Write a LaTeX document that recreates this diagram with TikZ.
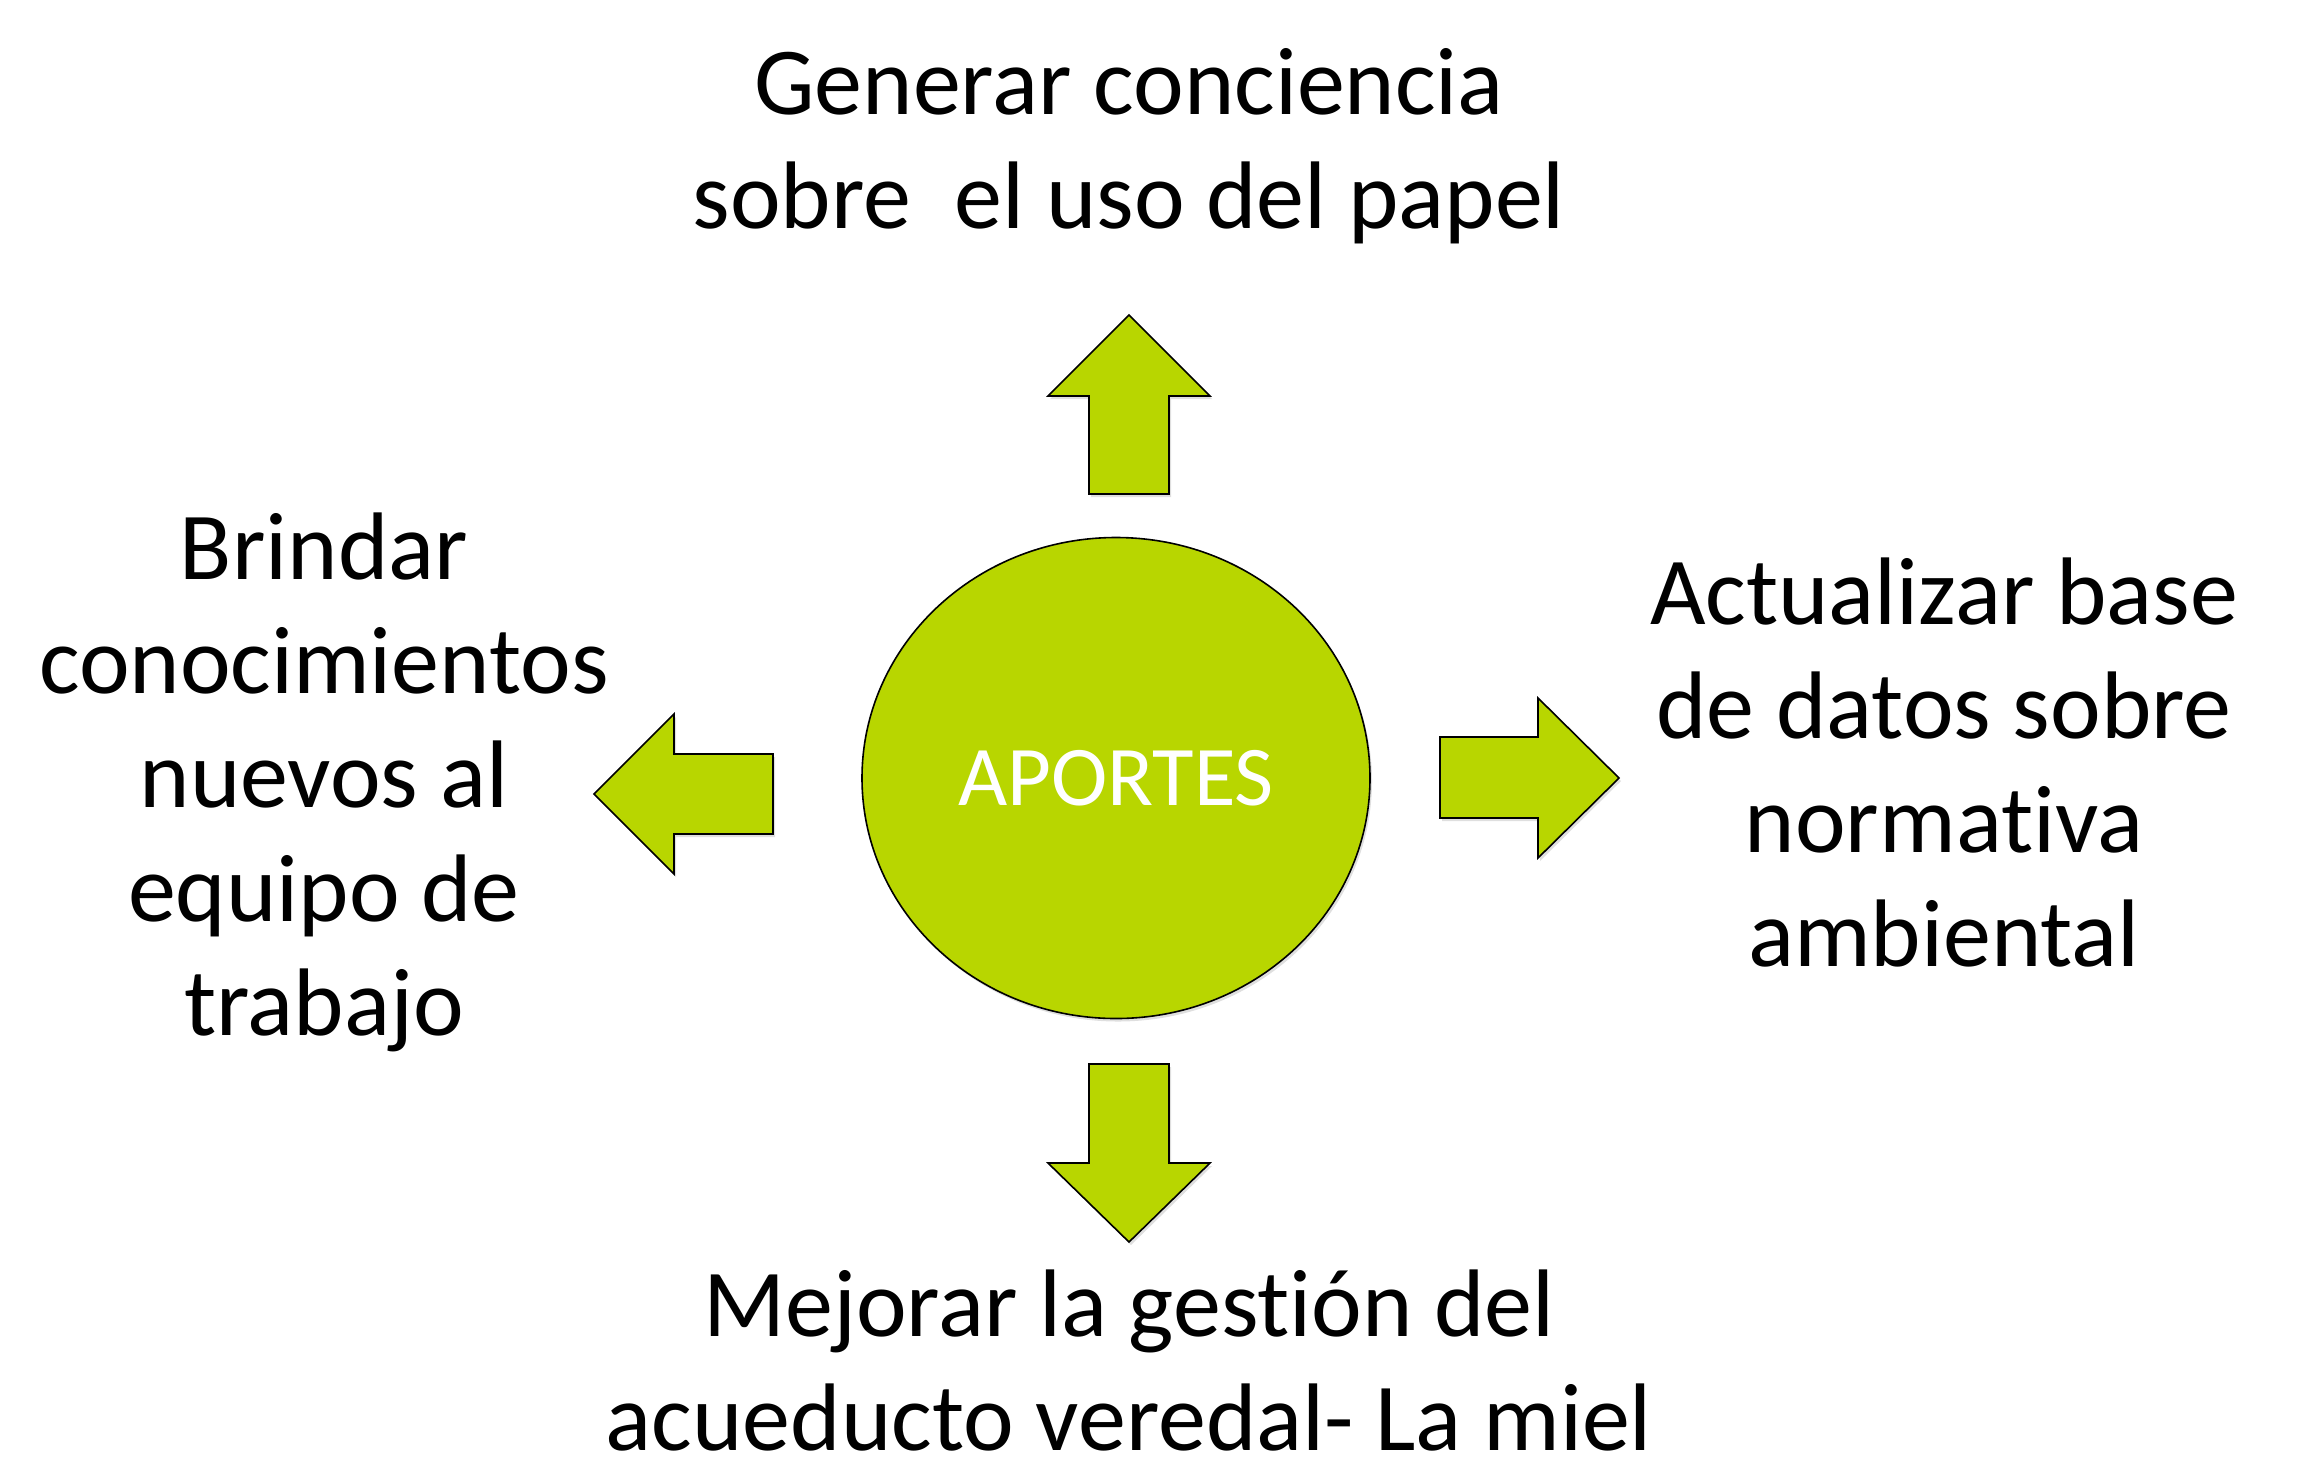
\documentclass[tikz,border=0pt]{standalone}
\usepackage{fontspec}
\setmainfont{Carlito}[Ligatures=NoCommon]
\usetikzlibrary{shapes.geometric,shadows}
\definecolor{limegreen}{RGB}{184,214,0}
\tikzset{
  arrowshape/.style={fill=limegreen,draw=black,line width=1.6pt,line join=miter,
    drop shadow={opacity=0.25,shadow xshift=2pt,shadow yshift=-3pt}},
  label/.style={align=center,inner sep=0pt,font=\fontsize{96}{114}\selectfont},
}
\begin{document}
\begin{tikzpicture}[x=1pt,y=-1pt]
\useasboundingbox (0,0) rectangle (2299,1460);
% centre
\node[ellipse,fill=limegreen,draw=black,line width=1.6pt,minimum width=508pt,minimum height=481pt,inner sep=0pt,
  drop shadow={opacity=0.25,shadow xshift=2pt,shadow yshift=-3pt},
  text=white,font=\fontsize{85}{100}\selectfont] (core) at (1116,778) {APORTES};
% up arrow
\draw[arrowshape] (1089,494) -- (1089,396) -- (1048,396) -- (1129,315) -- (1210,396) -- (1169,396) -- (1169,494) -- cycle;
% down arrow
\draw[arrowshape] (1089,1064) -- (1089,1163) -- (1048,1163) -- (1129,1242) -- (1210,1163) -- (1169,1163) -- (1169,1064) -- cycle;
% left arrow
\draw[arrowshape] (773,754) -- (674,754) -- (674,714) -- (594,794) -- (674,874) -- (674,834) -- (773,834) -- cycle;
% right arrow
\draw[arrowshape] (1440,737) -- (1538,737) -- (1538,698) -- (1619,778) -- (1538,858) -- (1538,818) -- (1440,818) -- cycle;
% texts
\node[label] (top) at (1129,146) {Generar conciencia\\sobre\ \ el uso del papel};
\node[label] (left) at (324,782) {Brindar\\conocimientos\\nuevos al\\equipo de\\trabajo};
\node[label] (right) at (1944,763) {Actualizar base\\de datos sobre\\normativa\\ambiental};
\node[label] (bottom) at (1129,1360) {Mejorar la gestión del\\acueducto veredal- La miel};
\end{tikzpicture}
\end{document}
